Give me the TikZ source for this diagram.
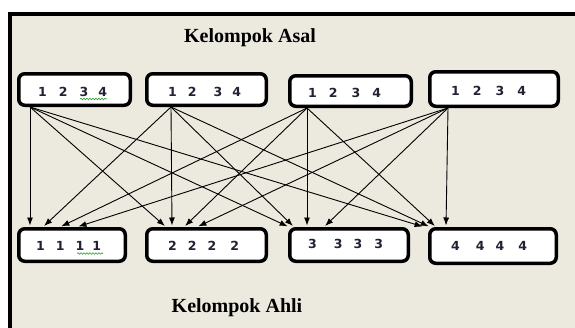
\documentclass[tikz,border=0pt]{standalone}
\usepackage{fontspec}
\setmainfont{Liberation Serif}
\newfontfamily\digfont{DejaVu Sans}
\usetikzlibrary{arrows.meta,decorations.pathmorphing}
\definecolor{bgbeige}{RGB}{236,233,223}
\definecolor{digcol}{RGB}{34,34,52}
\definecolor{spellgreen}{RGB}{40,160,40}
\newcommand\dgts[7]{#1\hspace{#5}#2\hspace{#6}#3\hspace{#7}#4}
\tikzset{
  grpbox/.style={draw=black,line width=3.5pt,rounded corners=6pt,fill=white,inner sep=0pt},
  digs/.style={anchor=base west,inner sep=0pt,text=digcol,font=\digfont\bfseries\fontsize{12.5}{14}\selectfont},
  ttl/.style={inner sep=0pt,font=\bfseries\fontsize{20}{24}\selectfont,text=black},
  arr/.style={draw=black,line width=0.9pt,-{Latex[length=8pt,width=6pt]},shorten >=1.5pt},
  squig/.style={draw=spellgreen,line width=0.6pt,decorate,decoration={snake,segment length=3pt,amplitude=0.8pt}}
}
\begin{document}
\begin{tikzpicture}[x=1pt,y=-1pt]
\useasboundingbox (0,0) rectangle (575,327);
\fill[white] (0,0) rectangle (575,327);
\draw[fill=bgbeige,line width=4.5pt] (10,14) rectangle (590,345);

\node[ttl] (asal) at (250,38) {Kelompok Asal};
\node[ttl] (ahli) at (237,308) {Kelompok Ahli};

% top boxes
\node[grpbox,minimum width=111.5pt,minimum height=31.5pt] (t1) at (74.5,89.5) {};
\node[grpbox,minimum width=119.5pt,minimum height=31.5pt] (t2) at (206.5,89.5) {};
\node[grpbox,minimum width=121.5pt,minimum height=30.5pt] (t3) at (350.5,91) {};
\node[grpbox,minimum width=128.5pt,minimum height=34.5pt] (t4) at (494,89) {};
% bottom boxes
\node[grpbox,minimum width=106.5pt,minimum height=32.5pt] (b1) at (72,245) {};
\node[grpbox,minimum width=119.5pt,minimum height=32.5pt] (b2) at (206.5,245) {};
\node[grpbox,minimum width=118.5pt,minimum height=32.5pt] (b3) at (349,245) {};
\node[grpbox,minimum width=126.5pt,minimum height=34.5pt] (b4) at (493,246) {};

% texts
\node[digs] (t1txt) at (38,96) {\dgts{1}{2}{3}{4}{12pt}{12pt}{10pt}};
\node[digs] (t2txt) at (168,96) {\dgts{1}{2}{3}{4}{11pt}{17pt}{10pt}};
\node[digs] (t3txt) at (308,97) {\dgts{1}{2}{3}{4}{12pt}{14pt}{12pt}};
\node[digs] (t4txt) at (451,95) {\dgts{1}{2}{3}{4}{13pt}{14pt}{13pt}};
\node[digs] (b1txt) at (36,250) {\dgts{1}{1}{1}{1}{11pt}{11pt}{8pt}};
\node[digs] (b2txt) at (168,250) {\dgts{2}{2}{2}{2}{11pt}{11pt}{14pt}};
\node[digs] (b3txt) at (308,248) {\dgts{3}{3}{3}{3}{17pt}{11pt}{12pt}};
\node[digs] (b4txt) at (451,250) {\dgts{4}{4}{4}{4}{16pt}{11pt}{14pt}};

% spell-check squiggles
\draw[squig] (80,99) -- (107,99);
\draw[squig] (77,253.5) -- (103,253.5);

% connectors: from each top box to each bottom box
\foreach \s/\sx in {t1/-44.5,t2/-35.5,t3/-43.5,t4/-46}{
  \coordinate (src-\s) at ([xshift=\sx pt]\s.south);
}
\draw[arr] (src-t1) -- ([xshift=-42pt]b1.north);
\draw[arr] (src-t2) -- ([xshift=-29pt]b1.north);
\draw[arr] (src-t3) -- ([xshift=-12pt]b1.north);
\draw[arr] (src-t4) -- ([xshift=5pt]b1.north);

\draw[arr] (src-t1) -- ([xshift=-40.5pt]b2.north);
\draw[arr] (src-t2) -- ([xshift=-34.5pt]b2.north);
\draw[arr] (src-t3) -- ([xshift=-22.5pt]b2.north);
\draw[arr] (src-t4) -- ([xshift=-9.5pt]b2.north);

\draw[arr] (src-t1) -- ([xshift=-60pt]b3.north);
\draw[arr] (src-t2) -- ([xshift=-55pt]b3.north);
\draw[arr] (src-t3) -- ([xshift=-42pt]b3.north);
\draw[arr] (src-t4) -- ([xshift=-25pt]b3.north);

\draw[arr] (src-t1) -- ([xshift=-69pt]b4.north);
\draw[arr] (src-t2) -- ([xshift=-63pt]b4.north);
\draw[arr] (src-t3) -- ([xshift=-57pt]b4.north);
\draw[arr] (src-t4) -- ([xshift=-47pt]b4.north);
\end{tikzpicture}
\end{document}
